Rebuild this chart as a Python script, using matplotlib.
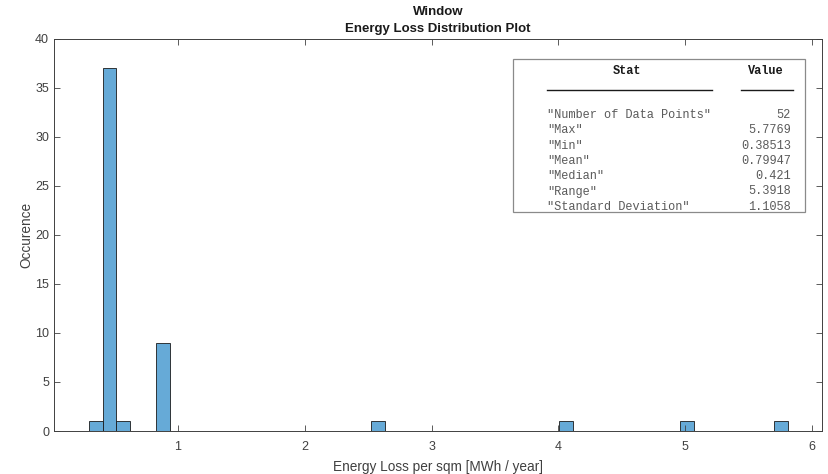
import matplotlib
matplotlib.use("Agg")
import matplotlib.pyplot as plt
import numpy as np
from matplotlib.patches import Rectangle

# ---- data ----
bin_start = 0.304
bin_width = 0.1058
bin_index = [0, 1, 2, 5, 21, 35, 44, 51]
bin_counts = [1, 37, 1, 9, 1, 1, 1, 1]
n_bins = 52

stat_names = ['"Number of Data Points"', '"Max"', '"Min"', '"Mean"',
              '"Median"', '"Range"', '"Standard Deviation"']
stat_values = ['52', '5.7769', '0.38513', '0.79947', '0.421', '5.3918', '1.1058']

title_lines = ["Window", "Energy Loss Distribution Plot"]
xlabel = "Energy Loss per sqm [MWh / year]"
ylabel = "Occurence"
xticks = [1, 2, 3, 4, 5, 6]
yticks = [0, 5, 10, 15, 20, 25, 30, 35, 40]

# ---- figure ----
W, H = 829, 474
fig = plt.figure(figsize=(W / 100, H / 100), dpi=100)
plt.rcParams['font.family'] = ['Liberation Sans', 'DejaVu Sans']

L, R, T, B = 54, 822, 38.5, 431
ax = fig.add_axes([L / W, 1 - B / H, (R - L) / W, (B - T) / H])

edges = bin_start + bin_width * np.arange(n_bins + 1)
counts = np.zeros(n_bins)
for i, c in zip(bin_index, bin_counts):
    counts[i] = c
centers = (edges[:-1] + edges[1:]) / 2
ax.hist(centers, bins=edges, weights=counts, color="#66AAD7",
        edgecolor="#1a1a1a", linewidth=0.6)

ax.set_xlim(0.026, 6.076)
ax.set_ylim(0, 40)
ax.set_xticks(xticks)
ax.set_yticks(yticks)
ax.tick_params(direction="in", length=4, width=0.6, colors="#404040", labelsize=9,
               top=True, right=True, labelcolor="#404040")
ax.tick_params(axis="x", pad=7.3)
ax.tick_params(axis="y", pad=3.5)
for s in ax.spines.values():
    s.set_color("#404040")
    s.set_linewidth(0.7)

ax.set_xlabel(xlabel, fontsize=9.8, color="#404040", labelpad=5)
ax.set_ylabel(ylabel, fontsize=9.8, color="#404040", labelpad=1.5)

cx = (L + R) / 2 / W
fig.text(cx, 1 - 12 / H, title_lines[0], ha="center", va="center",
         fontsize=9.5, fontweight="bold", color="#1a1a1a")
fig.text(cx, 1 - 29 / H, title_lines[1], ha="center", va="center",
         fontsize=9.5, fontweight="bold", color="#1a1a1a")

# ---- stats box ----
bx0, by0, bx1, by1 = 513, 59, 805, 212
fig.patches.append(Rectangle((bx0 / W, 1 - by1 / H), (bx1 - bx0) / W, (by1 - by0) / H,
                             transform=fig.transFigure, facecolor="white",
                             edgecolor="#8a8a8a", linewidth=0.9, zorder=5))
mono = ['Liberation Mono', 'DejaVu Sans Mono']
fig.text(627 / W, 1 - 71 / H, "Stat", ha="center", va="center", family=mono,
         fontsize=8.6, fontweight="bold", color="#1a1a1a", zorder=6)
fig.text(766 / W, 1 - 71 / H, "Value", ha="center", va="center", family=mono,
         fontsize=8.6, fontweight="bold", color="#1a1a1a", zorder=6)
fig.lines.append(plt.Line2D([547 / W, 712 / W], [1 - 90 / H] * 2, transform=fig.transFigure,
                            color="#1a1a1a", linewidth=1.0, zorder=6))
fig.lines.append(plt.Line2D([741 / W, 793 / W], [1 - 90 / H] * 2, transform=fig.transFigure,
                            color="#1a1a1a", linewidth=1.0, zorder=6))
for k, (n, v) in enumerate(zip(stat_names, stat_values)):
    y = 1 - (115 + 15.3 * k) / H
    fig.text(547 / W, y, n, ha="left", va="center", family=mono, fontsize=8.6,
             color="#5a5a5a", zorder=6)
    fig.text(791 / W, y, v, ha="right", va="center", family=mono, fontsize=8.6,
             color="#5a5a5a", zorder=6)

fig.savefig("out.png", dpi=100)
